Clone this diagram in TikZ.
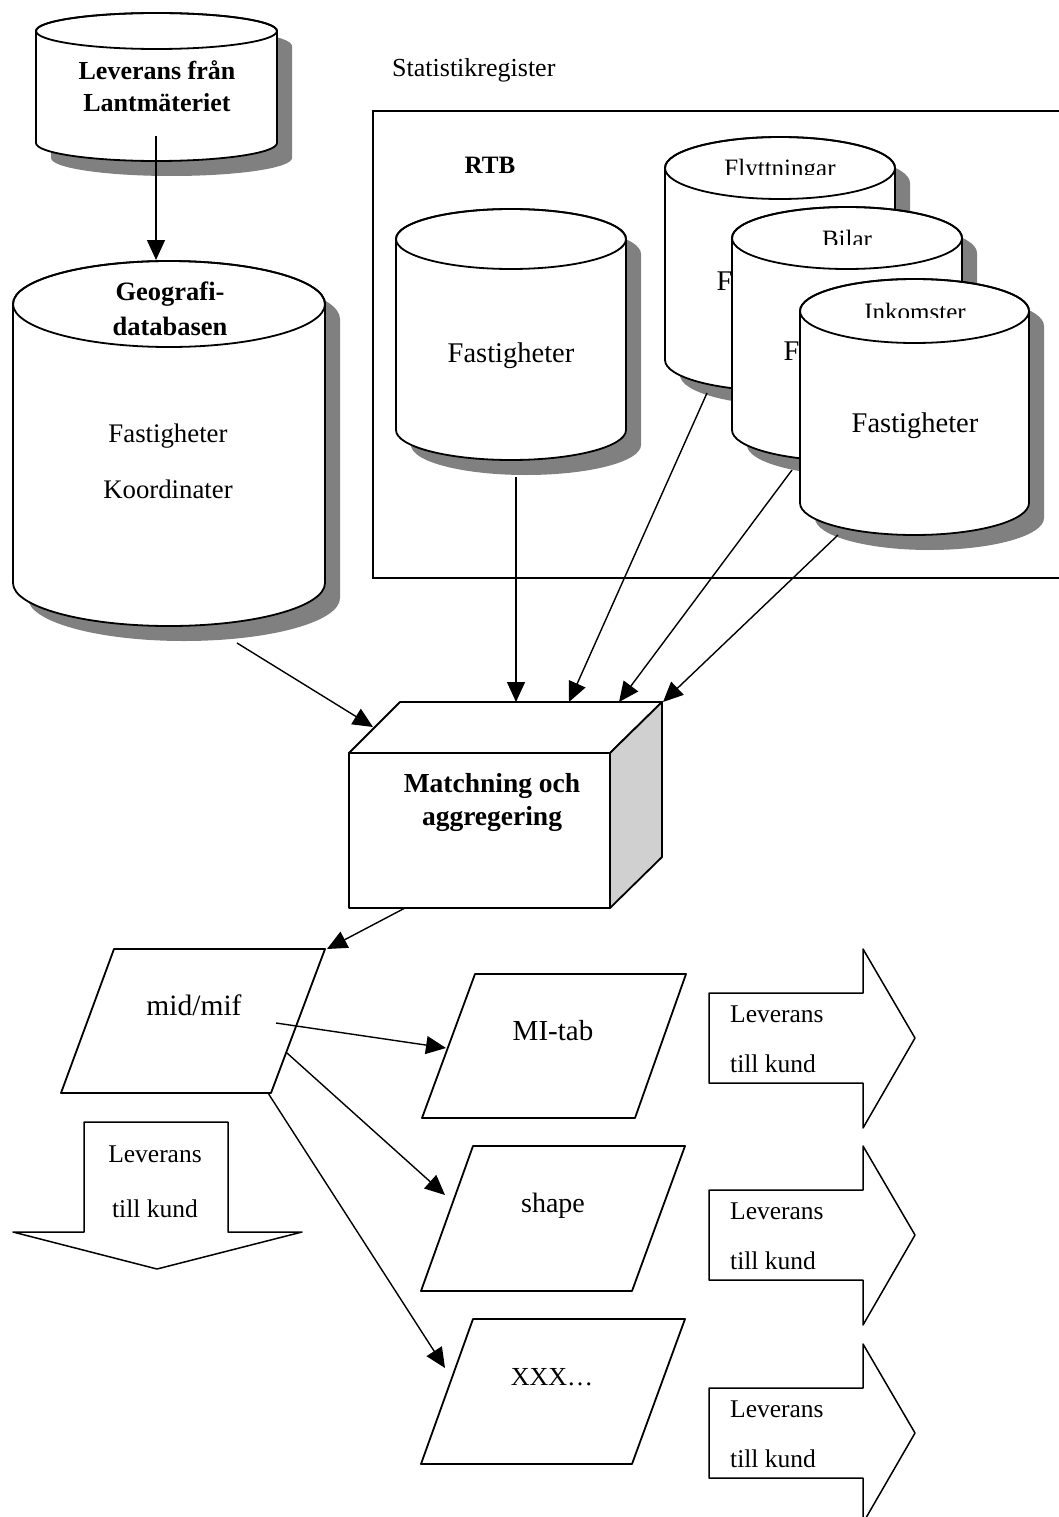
\documentclass[tikz,border=0pt]{standalone}
\usepackage{fontspec}
\setmainfont{Liberation Serif}
\usetikzlibrary{arrows.meta}
\definecolor{shadowgrey}{RGB}{128,128,128}
\definecolor{sidegrey}{RGB}{208,208,208}

\tikzset{
  outline/.style={draw=black, line width=1.8pt, line join=round},
  conn/.style={line width=1.4pt, -{Triangle[length=20pt,width=18pt]}},
  lbl/.style={inner sep=0pt, anchor=base},
  lblw/.style={inner sep=0pt, anchor=base west},
}
\newcommand\fsz[1]{\fontsize{#1}{#1}\selectfont}

% database cylinder: #1 centre x, #2 centre y of top ellipse, #3 x radius, #4 y radius, #5 height
\newcommand\dbcyl[5]{%
  \fill[shadowgrey] (#1-#3+15,#2+15) -- (#1-#3+15,#2+#5+15)
     arc[start angle=180,end angle=0,x radius=#3,y radius=#4] -- (#1+#3+15,#2+15)
     arc[start angle=0,end angle=-180,x radius=#3,y radius=#4] -- cycle;
  \filldraw[outline, fill=white] (#1-#3,#2) -- (#1-#3,#2+#5)
     arc[start angle=180,end angle=0,x radius=#3,y radius=#4] -- (#1+#3,#2)
     arc[start angle=0,end angle=-180,x radius=#3,y radius=#4] -- cycle;
  \draw[outline] (#1,#2) ellipse [x radius=#3, y radius=#4];
}

\begin{document}
\begin{tikzpicture}[x=1pt, y=-1pt]
\useasboundingbox (0,0) rectangle (1058,1517);
\fill[white] (0,0) rectangle (1058,1517);

% ---- source delivery ----
\dbcyl{156.5}{31}{120.5}{18}{112}
\node[lbl, font=\bfseries\fsz{26}] (lm1) at (157,80) {Leverans från};
\node[lbl, font=\bfseries\fsz{26}] (lm2) at (157,112) {Lantmäteriet};

% ---- geography database ----
\dbcyl{169}{304}{156}{43}{279}
\node[lbl, font=\bfseries\fsz{26.5}] (geo1) at (170,300) {Geografi-};
\node[lbl, font=\bfseries\fsz{26.5}] (geo2) at (170,335) {databasen};
\node[lbl, font=\fsz{26.8}] (geo3) at (168,442) {Fastigheter};
\node[lbl, font=\fsz{26.8}] (geo4) at (168,498) {Koordinater};

% ---- statistical registers ----
\node[lblw, font=\fsz{26}] (stat) at (392,77) {Statistikregister};
\draw[line width=1.6pt] (1075,111) -- (373,111) -- (373,578) -- (1075,578);
\node[lbl, font=\bfseries\fsz{25}] (rtb) at (490,174) {RTB};

\dbcyl{511}{239}{115}{30}{191}
\node[lbl, font=\fsz{28.5}] (rtbf) at (511,362) {Fastigheter};

\dbcyl{780}{168}{115}{31}{192}
\node[lbl, font=\fsz{28.5}] (flf) at (780,290) {Fastigheter};
\begin{scope}
  \clip (665,130) rectangle (895,174.5);
  \node[lbl, font=\fsz{25}] (fl) at (780,177) {Flyttningar};
\end{scope}

\dbcyl{847}{238}{115}{31}{192}
\node[lbl, font=\fsz{28.5}] (bif) at (847,360) {Fastigheter};
\begin{scope}
  \clip (732,200) rectangle (962,244.5);
  \node[lbl, font=\fsz{25}] (bi) at (847,247) {Bilar};
\end{scope}

\dbcyl{914.5}{311}{114.5}{32}{192}
\node[lbl, font=\fsz{28.5}] (inf) at (915,432) {Fastigheter};
\begin{scope}
  \clip (800,270) rectangle (1029,317.5);
  \node[lbl, font=\fsz{25}] (in) at (915,320) {Inkomster};
\end{scope}

% ---- matching box ----
\filldraw[outline, fill=white] (349,753) -- (400,702) -- (662,702) -- (610,753) -- cycle;
\filldraw[outline, fill=sidegrey] (610,753) -- (662,702) -- (662,857) -- (610,908) -- cycle;
\filldraw[outline, fill=white] (349,753) rectangle (610,908);
\node[lbl, font=\bfseries\fsz{27.5}] (m1) at (492,792) {Matchning och};
\node[lbl, font=\bfseries\fsz{27.5}] (m2) at (492,825) {aggregering};

% ---- output formats ----
\filldraw[outline, fill=white] (114,949) -- (325,949) -- (271,1093) -- (61,1093) -- cycle;
\node[lbl, font=\fsz{29.5}] (mid) at (194,1015) {mid/mif};
\filldraw[outline, fill=white] (475,974) -- (686,974) -- (635,1118) -- (422,1118) -- cycle;
\node[lbl, font=\fsz{29}] (mitab) at (553,1040) {MI-tab};
\filldraw[outline, fill=white] (473,1146) -- (685,1146) -- (632,1291) -- (421,1291) -- cycle;
\node[lbl, font=\fsz{28}] (shp) at (553,1212) {shape};
\filldraw[outline, fill=white] (473,1319) -- (685,1319) -- (632,1464) -- (421,1464) -- cycle;
\node[lbl, font=\fsz{26}] (xxx) at (552,1385) {XXX…};

% ---- delivery arrows ----
\foreach \dy/\nm in {0/d1, 197/d2, 395/d3}{
  \filldraw[outline, line width=1.5pt, fill=white]
    (709,993+\dy) -- (863,993+\dy) -- (863,949+\dy) -- (915,1038+\dy)
    -- (863,1128+\dy) -- (863,1083+\dy) -- (709,1083+\dy) -- cycle;
  \node[lblw, font=\fsz{25.5}] (\nm a) at (730,1022+\dy) {Leverans};
  \node[lblw, font=\fsz{25.5}] (\nm b) at (730,1072+\dy) {till kund};
}
\filldraw[outline, line width=1.5pt, fill=white]
  (84,1122) -- (228,1122) -- (228,1232) -- (302,1232) -- (157,1269)
  -- (13,1232) -- (84,1232) -- cycle;
\node[lbl, font=\fsz{25.5}] (dwa) at (155,1162) {Leverans};
\node[lbl, font=\fsz{25.5}] (dwb) at (155,1217) {till kund};

% ---- connector end points ----
\coordinate (lm-out) at (156,136);
\coordinate (geo-in) at (156,260);
\coordinate (geo-out) at (237,643);
\coordinate (box-in0) at (373,727);
\coordinate (rtb-out) at (516,477);
\coordinate (box-in1) at (516,702);
\coordinate (fl-out) at (707,393);
\coordinate (box-in2) at (569,702);
\coordinate (bi-out) at (792,470);
\coordinate (box-in3) at (619,702);
\coordinate (in-out) at (838,535);
\coordinate (box-in4) at (663,702);
\coordinate (box-out) at (405,908);
\coordinate (mid-in) at (327,949);
\coordinate (mid-out1) at (276,1023);
\coordinate (mitab-in) at (446,1048);
\coordinate (mid-out2) at (287,1053);
\coordinate (shp-in) at (445,1195);
\coordinate (mid-out3) at (268,1093);
\coordinate (xxx-in) at (445,1368);

% ---- connectors ----
\draw[conn] (lm-out) -- (geo-in);
\draw[conn] (geo-out) -- (box-in0);
\draw[conn] (rtb-out) -- (box-in1);
\draw[conn] (fl-out) -- (box-in2);
\draw[conn] (bi-out) -- (box-in3);
\draw[conn] (in-out) -- (box-in4);
\draw[conn] (box-out) -- (mid-in);
\draw[conn] (mid-out1) -- (mitab-in);
\draw[conn] (mid-out2) -- (shp-in);
\draw[conn] (mid-out3) -- (xxx-in);
\end{tikzpicture}
\end{document}
